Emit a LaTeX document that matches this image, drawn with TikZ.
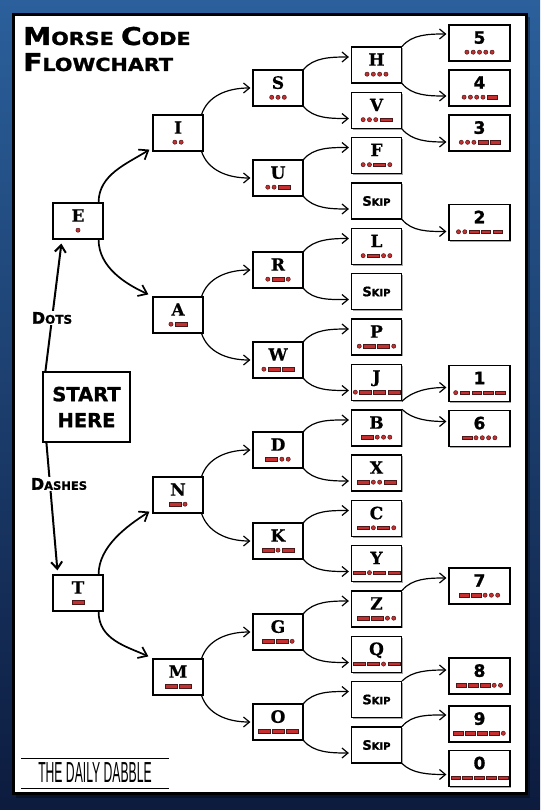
\documentclass[tikz,border=0pt]{standalone}
\usepackage{fontspec}
\setmainfont{DejaVu Sans}
\newfontfamily\lfont{DejaVu Serif}[BoldFeatures={FakeBold=0.6}]
\newfontfamily\heavyfont{DejaVu Sans}[BoldFeatures={FakeBold=1.2}]
\newfontfamily\thinfont{Liberation Sans}
\usetikzlibrary{arrows.meta,shadows,calc}
\definecolor{mred}{HTML}{C62F30}
\definecolor{mout}{HTML}{4A1818}
\definecolor{bgtop}{HTML}{2B609C}
\definecolor{bgmid}{HTML}{1D4C82}
\definecolor{bgbot}{HTML}{0C1B3E}
\def\dl{12pt}
\newcommand\Mdt{\tikz[baseline=0pt]\filldraw[fill=mred,draw=mout,line width=0.5pt] (0pt,0pt) circle (2.1pt);}
\newcommand\Mds{\tikz[baseline=0pt]\filldraw[fill=mred,draw=mout,line width=0.5pt] (0pt,-1.7pt) rectangle (\dl,1.7pt);}
\def\morseloop#1{\ifx\relax#1\unskip\else\ifx.#1\Mdt\else\Mds\fi\hspace{1.6pt}\expandafter\morseloop\fi}
\newcommand\morse[1]{\morseloop#1\relax}
\newcommand\cell[2]{\fontsize{17}{8.5}\selectfont\begin{tabular}{@{}c@{}}{\lfont\bfseries #1}\\\morse{#2}\end{tabular}}
\newcommand\dcell[2]{\def\dl{9.8pt}\fontsize{17}{8.5}\selectfont\begin{tabular}{@{}c@{}}{\heavyfont\bfseries #1}\\\morse{#2}\end{tabular}}
\newcommand\skiptxt{\heavyfont\bfseries{\fontsize{13}{13}\selectfont S}{\fontsize{10}{10}\selectfont KIP}}
\tikzset{
  box/.style={draw=black,line width=1.2pt,fill=white,minimum width=50pt,minimum height=36pt,inner sep=0pt,align=center,
    drop shadow={shadow xshift=1.3pt,shadow yshift=-1.3pt,opacity=0.35,fill=black}},
  nbox/.style={box,minimum width=61pt},
  conn/.style={line width=1.2pt,-{Straight Barb[length=6pt,width=10pt]}},
  bconn/.style={line width=1.7pt,-{Straight Barb[length=8pt,width=12pt]}},
  sconn/.style={line width=2pt,-{Straight Barb[length=7pt,width=11pt]}},
  side/.style={fill=white,inner sep=1.5pt,font=\heavyfont\bfseries},
}
\begin{document}
\begin{tikzpicture}[x=1pt,y=-1pt]
\useasboundingbox (0,0) rectangle (540,810);
\shade[top color=bgtop,middle color=bgmid,bottom color=bgbot] (0,0) rectangle (540,810);
\fill[black,opacity=0.35] (16,17) rectangle (530,798);
\draw[line width=3pt,fill=white] (13.5,14.5) rectangle (526,793.5);
% title
\node[anchor=base west,inner sep=0pt] (title1) at (23,45) {\scalebox{1.15}[1]{\heavyfont\bfseries{\fontsize{24.5}{24}\selectfont M}{\fontsize{18}{18}\selectfont ORSE }{\fontsize{24.5}{24}\selectfont C}{\fontsize{18}{18}\selectfont ODE}}};
\node[anchor=base west,inner sep=0pt] (title2) at (23,71) {\scalebox{1.15}[1]{\heavyfont\bfseries{\fontsize{24.5}{24}\selectfont F}{\fontsize{18}{18}\selectfont LOWCHART}}};
% column 0
\node[box,minimum width=87pt,minimum height=70pt,font={\heavyfont\bfseries\fontsize{19.5}{26}\selectfont}] (START) at (86.5,407) {START\\HERE};
\node[box] (E) at (78,221) {\cell{E}{.}};
\node[box] (T) at (78,593) {\cell{T}{-}};
% column 1
\node[box] (I) at (178,133) {\cell{I}{..}};
\node[box] (A) at (178,315) {\cell{A}{.-}};
\node[box] (N) at (178,495) {\cell{N}{-.}};
\node[box] (M) at (178,677) {\cell{M}{--}};
% column 2
\node[box] (S) at (278,88) {\cell{S}{...}};
\node[box] (U) at (278,178) {\cell{U}{..-}};
\node[box] (R) at (278,270) {\cell{R}{.-.}};
\node[box] (W) at (278,360) {\cell{W}{.--}};
\node[box] (D) at (278,450) {\cell{D}{-..}};
\node[box] (K) at (278,541) {\cell{K}{-.-}};
\node[box] (G) at (278,632) {\cell{G}{--.}};
\node[box] (O) at (278,722) {\cell{O}{---}};
% column 3
\node[box] (H) at (376.5,65) {\cell{H}{....}};
\node[box] (V) at (376.5,110.5) {\cell{V}{...-}};
\node[box] (F) at (376.5,155.5) {\cell{F}{..-.}};
\node[box] (sk1) at (376.5,201) {\skiptxt};
\node[box] (L) at (376.5,246.5) {\cell{L}{.-..}};
\node[box] (sk2) at (376.5,291.5) {\skiptxt};
\node[box] (P) at (376.5,337) {\cell{P}{.--.}};
\node[box] (J) at (376.5,382.5) {\cell{J}{.---}};
\node[box] (B) at (376.5,428) {\cell{B}{-...}};
\node[box] (X) at (376.5,473) {\cell{X}{-..-}};
\node[box] (C) at (376.5,518.5) {\cell{C}{-.-.}};
\node[box] (Y) at (376.5,563.5) {\cell{Y}{-.--}};
\node[box] (Z) at (376.5,609) {\cell{Z}{--..}};
\node[box] (Q) at (376.5,654.5) {\cell{Q}{--.-}};
\node[box] (sk3) at (376.5,699.5) {\skiptxt};
\node[box] (sk4) at (376.5,745) {\skiptxt};
% column 4
\node[nbox] (n5) at (479.5,43) {\dcell{5}{.....}};
\node[nbox] (n4) at (479.5,88) {\dcell{4}{....-}};
\node[nbox] (n3) at (479.5,133) {\dcell{3}{...--}};
\node[nbox] (n2) at (479.5,222.5) {\dcell{2}{..---}};
\node[nbox] (n1) at (479.5,383.5) {\dcell{1}{.----}};
\node[nbox] (n6) at (479.5,428.5) {\dcell{6}{-....}};
\node[nbox] (n7) at (479.5,586) {\dcell{7}{--...}};
\node[nbox] (n8) at (479.5,676) {\dcell{8}{---..}};
\node[nbox] (n9) at (479.5,724) {\dcell{9}{----.}};
\node[nbox] (n0) at (479.5,768.5) {\dcell{0}{-----}};
% start arrows
\draw[sconn] ($(START.north west)+(3,0)$) -- ($(E.south west)+(9,4)$);
\draw[sconn] ($(START.south west)+(4,0)$) -- ($(T.north west)+(5,-4)$);
\node[side] (dots) at (52,318) {{\fontsize{16}{16}\selectfont D}{\fontsize{12}{12}\selectfont OTS}};
\node[side] (dashes) at (59,484) {{\fontsize{16}{16}\selectfont D}{\fontsize{11.5}{12}\selectfont ASHES}};
% column 0 -> 1
\draw[bconn] ($(E.north east)+(-5,0)$) .. controls +(0,-28) and +(-22,14) .. ($(I.south west)+(-3,-2)$);
\draw[bconn] ($(E.south east)+(-5,0)$) .. controls +(0,28) and +(-22,-10) .. ($(A.north west)+(-4,-2)$);
\draw[bconn] ($(T.north east)+(-5,0)$) .. controls +(0,-28) and +(-22,14) .. ($(N.south west)+(-3,-2)$);
\draw[bconn] ($(T.south east)+(-5,0)$) .. controls +(0,28) and +(-22,-10) .. ($(M.north west)+(-4,-2)$);
% column 1 -> 2
\foreach \p/\a/\b in {I/S/U,A/R/W,N/D/K,M/G/O}{
  \draw[conn] ($(\p.north east)+(-2,0)$) .. controls +(6,-18) and +(-24,0) .. ($(\a.west)+(-2,0)$);
  \draw[conn] ($(\p.south east)+(-2,0)$) .. controls +(6,18) and +(-24,0) .. ($(\b.west)+(-2,0)$);
}
% column 2 -> 3
\foreach \p/\a/\b in {S/H/V,U/F/sk1,R/L/sk2,W/P/J,D/B/X,K/C/Y,G/Z/Q,O/sk3/sk4}{
  \draw[conn] (\p.north east) .. controls +(10,-12) and +(-18,0) .. ($(\a.west)+(-2,-8)$);
  \draw[conn] (\p.south east) .. controls +(10,12) and +(-18,0) .. ($(\b.west)+(-2,8)$);
}
% column 3 -> 4
\draw[conn] (H.north east) .. controls +(10,-12) and +(-18,0) .. ($(n5.west)+(-2,-9)$);
\draw[conn] (H.south east) .. controls +(10,12) and +(-18,0) .. ($(n4.west)+(-2,8)$);
\draw[conn] (V.south east) .. controls +(10,12) and +(-18,0) .. ($(n3.west)+(-2,9)$);
\draw[conn] (sk1.south east) .. controls +(10,12) and +(-18,0) .. ($(n2.west)+(-2,9)$);
\draw[conn] (J.south east) .. controls +(10,-10) and +(-18,0) .. ($(n1.west)+(-2,4)$);
\draw[conn] (B.north east) .. controls +(10,10) and +(-18,0) .. ($(n6.west)+(-2,-7)$);
\draw[conn] (Z.north east) .. controls +(10,-12) and +(-18,0) .. ($(n7.west)+(-2,-8)$);
\draw[conn] (sk3.north east) .. controls +(10,-10) and +(-18,0) .. ($(n8.west)+(-2,-6)$);
\draw[conn] (sk4.north east) .. controls +(10,-12) and +(-18,0) .. ($(n9.west)+(-2,-9)$);
\draw[conn] (sk4.south east) .. controls +(10,10) and +(-18,0) .. ($(n0.west)+(-2,6)$);
% footer
\draw[line width=0.8pt] (21,758) -- (169,758);
\draw[line width=0.8pt] (21,788) -- (169,788);
\node (dabble) at (95,773) {\scalebox{0.42}[1]{\thinfont\fontsize{29}{29}\selectfont THE DAILY DABBLE}};
\end{tikzpicture}
\end{document}
